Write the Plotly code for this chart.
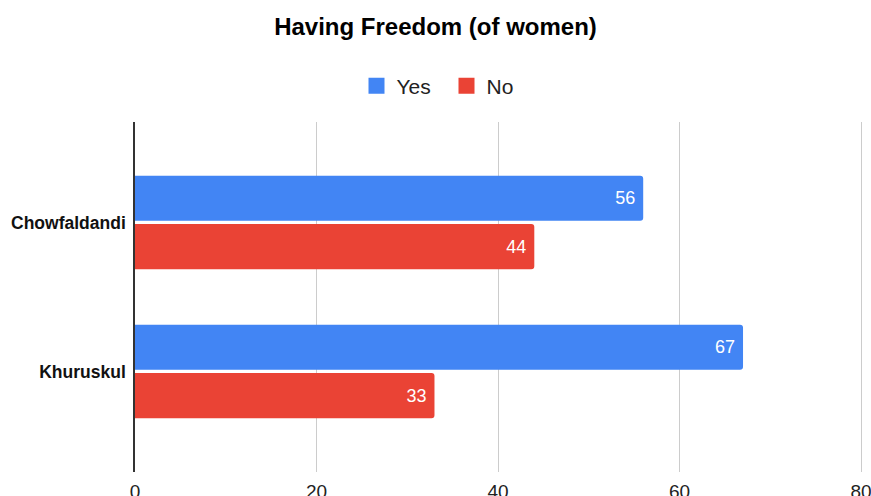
import plotly.graph_objects as go

categories = ["Chowfaldandi", "Khuruskul"]
yes_values = [56, 67]
no_values = [44, 33]
x_ticks = [0, 20, 40, 60, 80]

W, H = 871, 496
top, bottom = 122, 472
left, right_edge = 135, 866
px_per_unit = (861 - 135) / 80.0
x_max = 80 + (right_edge - 861) / px_per_unit
BLUE, RED = "#4285F4", "#EA4335"
NBSP = "\u00a0"

fig = go.Figure()
fig.add_trace(go.Bar(
    y=categories, x=yes_values, name="Yes", orientation="h",
    marker=dict(color=BLUE, line=dict(width=0)), showlegend=False,
    legendgroup="yes",
    text=[f"{v}{NBSP}" for v in yes_values], textposition="inside",
    insidetextanchor="end", textfont=dict(color="white", size=18),
))
fig.add_trace(go.Bar(
    y=categories, x=no_values, name="No", orientation="h",
    marker=dict(color=RED, line=dict(width=0)), showlegend=False,
    legendgroup="no",
    text=[f"{v}{NBSP}" for v in no_values], textposition="inside",
    insidetextanchor="end", textfont=dict(color="white", size=18),
))
# legend-only entries with square swatches
for name, color, grp in [("Yes", BLUE, "yes"), ("No", RED, "no")]:
    fig.add_trace(go.Scatter(
        x=[None], y=[None], mode="markers", name=name, legendgroup=grp,
        marker=dict(symbol="square", size=18, color=color),
        hoverinfo="skip",
    ))

fig.update_layout(
    width=W, height=H,
    margin=dict(l=left, r=W - right_edge, t=top, b=H - bottom, autoexpand=False),
    paper_bgcolor="white", plot_bgcolor="white",
    font=dict(family="Liberation Sans, Arial, sans-serif", color="#222222"),
    barmode="group", bargap=0.35, bargroupgap=0.07,
    barcornerradius=3,
    title=dict(text="Having Freedom (of women)", x=0.5, xanchor="center",
               y=1 - 27 / H, yref="container", yanchor="middle",
               font=dict(size=24, color="#000000", weight="bold")),
    legend=dict(orientation="h", xref="container", x=0.5 + 11 / W,
                xanchor="center",
                y=(bottom - 86) / (bottom - top), yanchor="middle",
                font=dict(size=21, color="#222222"), traceorder="normal",
                entrywidth=45),
    uniformtext=dict(mode="show", minsize=10),
)
fig.update_xaxes(range=[0, x_max], tickvals=x_ticks, showgrid=True,
                 gridcolor="#cccccc", gridwidth=1, zeroline=False,
                 showline=False, tickfont=dict(size=19, color="#222222"),
                 ticklabelstandoff=6, ticklabeloverflow="allow",
                 automargin=False, fixedrange=True)
fig.update_yaxes(range=[1.675, -0.674], showline=True, linecolor="#333333",
                 linewidth=1.5, showgrid=False, zeroline=False,
                 tickfont=dict(size=17.5, color="#111111", weight="bold"),
                 ticklabelstandoff=4, automargin=False, fixedrange=True)

fig.write_html("out.html")
